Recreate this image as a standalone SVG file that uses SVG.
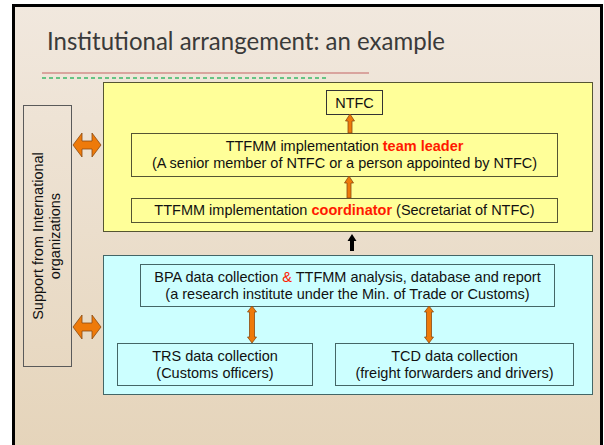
<svg xmlns="http://www.w3.org/2000/svg" width="604" height="445" viewBox="0 0 604 445">
<defs>
<linearGradient id="bg" x1="0" y1="0" x2="0" y2="1">
<stop offset="0" stop-color="#f1e8de"/>
<stop offset="1" stop-color="#e5d4ba"/>
</linearGradient>
<style>
.t{font-family:"Liberation Sans",Arial,sans-serif;font-size:14.5px;fill:#111;text-anchor:middle}
.r{fill:#ff1a00;font-weight:bold}
.amp{fill:#ff1a00}
.ybox{fill:#ffff99;stroke:#555533;stroke-width:1}
.cbox{fill:#ccffff;stroke:#446666;stroke-width:1}
.oa{fill:#ee7a0a;stroke:#8a4a10;stroke-width:0.8}
.ba{fill:#000}
</style>
</defs>
<rect x="0" y="0" width="604" height="445" fill="#fff"/>
<rect x="13.5" y="5.5" width="588" height="450" fill="url(#bg)" stroke="#000" stroke-width="3"/>
<text x="47" y="50" font-family="Lato,'Open Sans',sans-serif" font-size="25" fill="#3a3a3a" textLength="398" lengthAdjust="spacingAndGlyphs">Institutional arrangement: an example</text>
<line x1="42" y1="73" x2="369" y2="73" stroke="#c46464" stroke-width="1.2"/>
<line x1="42" y1="78" x2="327" y2="78" stroke="#3cb868" stroke-width="1.5" stroke-dasharray="4,3"/>

<g id="support">
<rect x="23.5" y="105.5" width="48" height="261" fill="none" stroke="#5a5a5a" stroke-width="1"/>
<text class="t" transform="translate(43,236) rotate(-90)" x="0" y="0">Support from International</text>
<text class="t" transform="translate(60,236) rotate(-90)" x="0" y="0">organizations</text>
</g>

<g id="yellow-panel">
<rect class="ybox" x="103.5" y="82.5" width="489" height="149"/>
</g>
<g id="cyan-panel">
<rect class="cbox" x="103.5" y="255.5" width="489" height="139"/>
</g>

<g id="ntfc">
<rect x="326.5" y="90.5" width="56" height="24" fill="#ffff99" stroke="#333" stroke-width="1"/>
<text class="t" x="354.5" y="108">NTFC</text>
</g>
<g id="team-leader">
<rect x="131.5" y="133.5" width="426" height="43" fill="#ffff99" stroke="#555533" stroke-width="1"/>
<text class="t" x="344.5" y="151">TTFMM implementation <tspan class="r">team leader</tspan></text>
<text class="t" x="344.5" y="168">(A senior member of NTFC or a person appointed by NTFC)</text>
</g>
<g id="coordinator">
<rect x="131.5" y="198.5" width="426" height="24" fill="#ffff99" stroke="#555533" stroke-width="1"/>
<text class="t" x="344.5" y="215">TTFMM implementation <tspan class="r">coordinator</tspan> (Secretariat of NTFC)</text>
</g>
<g id="bpa">
<rect class="cbox" x="140.5" y="264.5" width="414" height="42"/>
<text class="t" x="347.5" y="282">BPA data collection <tspan class="amp">&amp;</tspan> TTFMM analysis, database and report</text>
<text class="t" x="347.5" y="299">(a research institute under the Min. of Trade or Customs)</text>
</g>
<g id="trs">
<rect class="cbox" x="117.5" y="343.5" width="195" height="42"/>
<text class="t" x="215" y="361">TRS data collection</text>
<text class="t" x="215" y="378">(Customs officers)</text>
</g>
<g id="tcd">
<rect class="cbox" x="335.5" y="343.5" width="238" height="42"/>
<text class="t" x="454.5" y="361">TCD data collection</text>
<text class="t" x="454.5" y="378">(freight forwarders and drivers)</text>
</g>

<g id="connectors">
<polygon class="oa" points="73,145 82,133 82,141 92,141 92,133 101,145 92,157 92,149 82,149 82,157"/>
<polygon class="oa" points="73,327 82,315 82,323 92,323 92,315 101,327 92,339 92,331 82,331 82,339"/>
<polygon class="oa" points="350,114 354.5,121 352,121 352,133 348,133 348,121 345.5,121"/>
<polygon class="oa" points="349,176 353.5,183 351,183 351,198 347,198 347,183 344.5,183"/>
<polygon class="ba" points="352,234 356.5,241 354,241 354,251 350,251 350,241 347.5,241"/>
<polygon class="oa" points="252,306 256.5,312 254.5,312 254.5,337 256.5,337 252,343 247.5,337 249.5,337 249.5,312 247.5,312"/>
<polygon class="oa" points="429,306 433.5,312 431.5,312 431.5,337 433.5,337 429,343 424.5,337 426.5,337 426.5,312 424.5,312"/>
</g>
</svg>
